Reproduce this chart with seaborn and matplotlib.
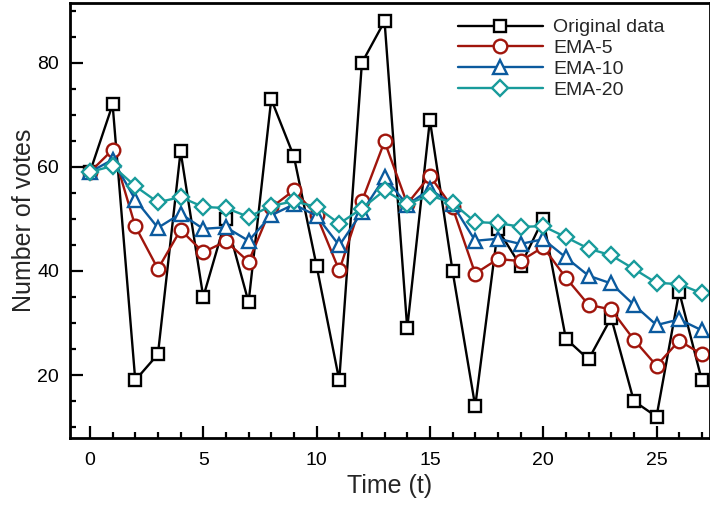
import numpy as np
import pandas as pd
import matplotlib
matplotlib.use("Agg")
import matplotlib.pyplot as plt
from matplotlib.ticker import MultipleLocator
import seaborn as sns

t = list(range(28))
original = [59, 72, 19, 24, 63, 35, 50, 34, 73, 62, 41, 19, 80, 88, 29, 69, 40, 14, 48, 41,
            50, 27, 23, 31, 15, 12, 36, 19]
ema5 = [59.0, 63.3, 48.6, 40.4, 47.9, 43.6, 45.7, 41.8, 52.2, 55.5, 50.7, 40.1, 53.4, 64.9,
        52.9, 58.3, 52.2, 39.5, 42.3, 41.9, 44.6, 38.7, 33.5, 32.6, 26.8, 21.8, 26.6, 24.0]
ema10 = [59.0, 61.4, 53.7, 48.3, 51.0, 48.1, 48.4, 45.8, 50.7, 52.8, 50.6, 44.9, 51.3, 58.0,
         52.7, 55.7, 52.8, 45.8, 46.2, 45.2, 46.1, 42.6, 39.1, 37.6, 33.5, 29.6, 30.7, 28.6]
ema20 = [59.0, 60.2, 56.3, 53.2, 54.2, 52.3, 52.1, 50.4, 52.5, 53.4, 52.3, 49.1, 52.0, 55.5,
         52.9, 54.5, 53.1, 49.4, 49.2, 48.5, 48.6, 46.5, 44.3, 43.0, 40.4, 37.7, 37.5, 35.7]

series_names = ["Original data", "EMA-5", "EMA-10", "EMA-20"]
series_values = [original, ema5, ema10, ema20]
colors = ["#000000", "#a0150c", "#0b5a9e", "#189b9b"]
markers = ["s", "o", "^", "D"]
msizes = [8.5, 9.8, 10.5, 7.8]

sns.set_style("ticks")
plt.rcParams["font.family"] = ["Liberation Sans", "DejaVu Sans"]

fig = plt.figure(figsize=(7.1, 5.07), dpi=100)
ax = fig.add_axes([70 / 710, 69 / 507, 640 / 710, 435 / 507])

for name, vals, c, m, ms in zip(series_names, series_values, colors, markers, msizes):
    df = pd.DataFrame({"t": t, "v": vals})
    sns.lineplot(data=df, x="t", y="v", ax=ax, color=c, marker=m, markersize=ms,
                 markerfacecolor="white", markeredgecolor=c, markeredgewidth=1.7,
                 linewidth=1.7, label=name)

ax.set_xlim(-0.88, 27.36)
ax.set_ylim(7.9, 91.5)
ax.xaxis.set_major_locator(MultipleLocator(5))
ax.xaxis.set_minor_locator(MultipleLocator(1))
ax.yaxis.set_major_locator(MultipleLocator(20))
ax.yaxis.set_minor_locator(MultipleLocator(5))
ax.tick_params(which="both", direction="in", width=1.6, labelsize=14, colors="black")
ax.tick_params(which="major", length=9, pad=8)
ax.tick_params(which="minor", length=4.5)
ax.tick_params(axis="x", pad=10)
for s in ax.spines.values():
    s.set_linewidth(2)
    s.set_color("black")

ax.set_xlabel("Time (t)", fontsize=18, labelpad=4)
ax.set_ylabel("Number of votes", fontsize=18, labelpad=1)

leg = ax.legend(loc="upper right", bbox_to_anchor=(0.95, 0.995), frameon=False, fontsize=14,
                handlelength=4.4, handletextpad=0.5, labelspacing=0.16, borderaxespad=0.3)

fig.savefig("out.png", dpi=100)
